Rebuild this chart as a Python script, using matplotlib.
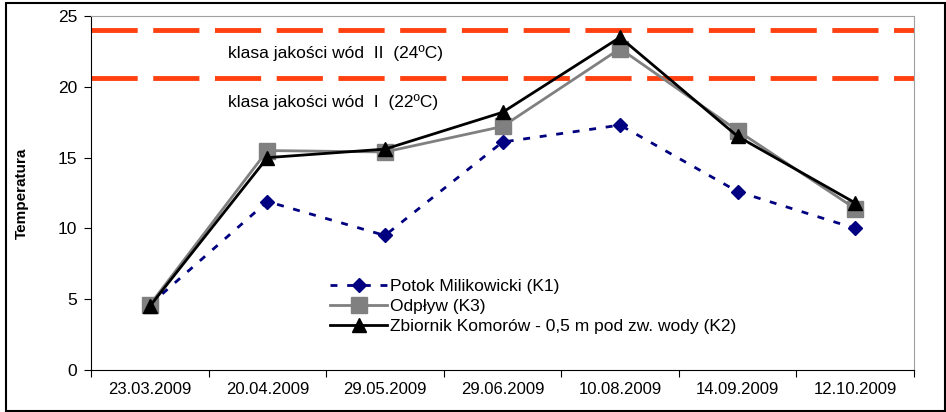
import numpy as np
import matplotlib.pyplot as plt
from matplotlib.patches import Rectangle

plt.rcParams['font.family'] = ['Liberation Sans', 'DejaVu Sans']

dates = ['23.03.2009', '20.04.2009', '29.05.2009', '29.06.2009',
         '10.08.2009', '14.09.2009', '12.10.2009']
k1 = [4.6, 11.9, 9.5, 16.1, 17.3, 12.6, 10.0]   # Potok Milikowicki
k3 = [4.6, 15.5, 15.4, 17.2, 22.7, 16.9, 11.4]  # Odpływ
k2 = [4.5, 15.0, 15.6, 18.2, 23.5, 16.5, 11.8]  # Zbiornik Komorów
limit_ii = 24.0
limit_i = 20.6

x = np.arange(len(dates))

fig = plt.figure(figsize=(9.46, 4.12), dpi=100)
ax = fig.add_axes([0.0962, 0.102, 0.870, 0.859])

ax.axhline(limit_ii, color='#ff4010', lw=3.5, dashes=(9.5, 3.2), zorder=1)
ax.axhline(limit_i, color='#ff4010', lw=3.5, dashes=(9.5, 3.2), zorder=1)

ax.plot(x, k1, color='#000080', lw=2, ls=(0, (2.5, 3.5)), marker='D',
        ms=7, label='Potok Milikowicki (K1)', zorder=3)
ax.plot(x, k3, color='#808080', lw=2, marker='s', ms=11,
        label='Odpływ (K3)', zorder=4)
ax.plot(x, k2, color='black', lw=2, marker='^', ms=10,
        label='Zbiornik Komorów - 0,5 m pod zw. wody (K2)', zorder=5)

ax.set_xlim(-0.5, len(dates) - 0.5)
ax.set_ylim(0, 25)

ax.text(0.664, 22.4, 'klasa jakości wód  II  (24ºC)', fontsize=12.5, va='center')
ax.text(0.664, 18.9, 'klasa jakości wód  I  (22ºC)', fontsize=12.5, va='center')

ax.set_xticks(np.arange(-0.5, len(dates)))
ax.set_xticklabels([])
ax.set_xticks(x, minor=True)
ax.set_xticklabels(dates, minor=True, fontsize=12)
ax.tick_params(axis='x', which='minor', length=0, pad=9)
ax.tick_params(axis='x', which='major', length=5, direction='out')
ax.set_yticks([0, 5, 10, 15, 20, 25])
ax.tick_params(axis='y', labelsize=12.5, length=5, direction='out', pad=5)

ax.set_ylabel('Temperatura', fontsize=11, fontweight='bold', labelpad=21)

for s in ['top', 'right']:
    ax.spines[s].set_color('#a0a0a0')
for s in ['left', 'bottom']:
    ax.spines[s].set_color('black')

ax.legend(loc='upper left', bbox_to_anchor=(0.282, 0.278), frameon=False,
          fontsize=12.5, handlelength=3.3, labelspacing=0.28,
          handletextpad=0.15, borderaxespad=0)

fig.patches.append(Rectangle((6 / 946, 0.003), 0.999 - 6 / 946, 0.99,
                             transform=fig.transFigure, fill=False,
                             edgecolor='black', lw=1.5))

plt.savefig('out.png', dpi=100)
